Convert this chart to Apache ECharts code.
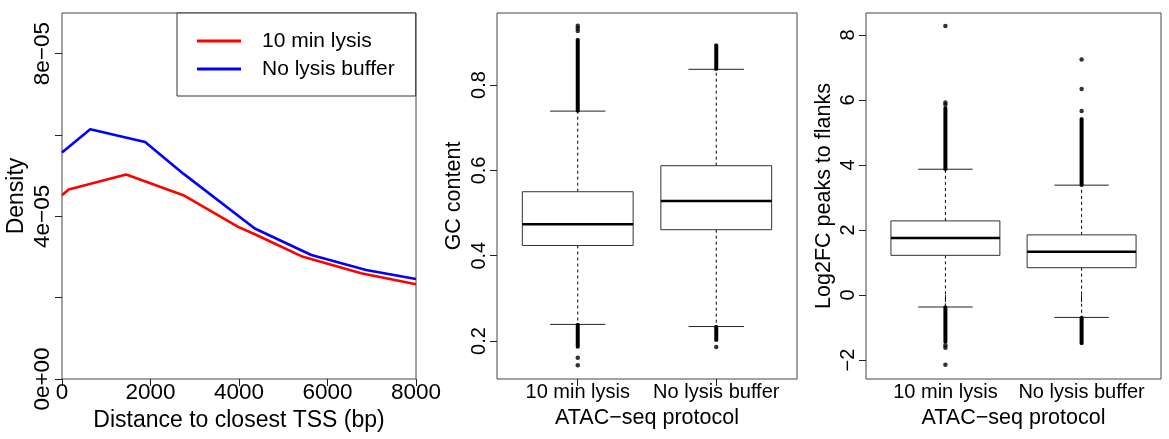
<!DOCTYPE html>
<html>
<head>
<meta charset="utf-8">
<script src="https://cdn.jsdelivr.net/npm/echarts@6/dist/echarts.min.js"></script>
<style>
  html, body { margin: 0; padding: 0; background: #fff; }
  #chart { width: 1169px; height: 439px; }
</style>
</head>
<body>
<div id="chart"></div>
<script>
// ---- Panel 1: density of peak distance to the closest TSS ----
const lysisSeriesNames = ['10 min lysis', 'No lysis buffer'];
const tssDistance10min = [0, 150, 1450, 2742, 3981, 4394, 5408, 6761, 8000];
const density10min = [4.52e-5, 4.66e-5, 5.03e-5, 4.52e-5, 3.74e-5, 3.54e-5, 3.02e-5, 2.60e-5, 2.33e-5];
const tssDistanceNoBuffer = [0, 638, 1878, 2742, 4357, 5634, 6873, 8000];
const densityNoBuffer = [5.57e-5, 6.14e-5, 5.83e-5, 5.05e-5, 3.70e-5, 3.05e-5, 2.68e-5, 2.46e-5];
const distanceTicks = [0, 2000, 4000, 6000, 8000];
const densityTickValues = [0, 2e-5, 4e-5, 6e-5, 8e-5];
const densityLabelValues = [0, 4e-5, 8e-5];
const densityLabelTexts = ['0e+00', '4e\u221205', '8e\u221205'];

// ---- Panels 2 and 3: box plots per ATAC-seq protocol ----
const protocolNames = ['10 min lysis', 'No lysis buffer'];
// [low whisker, Q1, median, Q3, high whisker]
const gcStats = [
  [0.239, 0.424, 0.474, 0.550, 0.739],
  [0.234, 0.461, 0.528, 0.611, 0.837]
];
// dense runs of outliers [protocol index, from, to]
const gcOutlierRuns = [
  [1, 0.739, 0.907], [1, 0.186, 0.239],
  [2, 0.837, 0.894], [2, 0.202, 0.234]
];
// single outliers [protocol index, value]
const gcOutliers = [
  [1, 0.927], [1, 0.933], [1, 0.939], [1, 0.161], [1, 0.143],
  [2, 0.186]
];
const gcTicks = [0.2, 0.4, 0.6, 0.8];

const log2Stats = [
  [-0.37, 1.22, 1.75, 2.28, 3.87],
  [-0.69, 0.84, 1.33, 1.85, 3.38]
];
const log2OutlierRuns = [
  [1, 3.87, 5.75], [1, -0.37, -1.45],
  [2, 3.38, 5.42], [2, -0.69, -1.49]
];
const log2Outliers = [
  [1, 5.85], [1, 5.92], [1, 8.28], [1, -1.55], [1, -1.62], [1, -2.15],
  [2, 5.66], [2, 6.34], [2, 7.25]
];
const log2Ticks = [-2, 0, 2, 4, 6, 8];

const FONT = "'Liberation Sans', Arial, Helvetica, sans-serif";
const FRAME = '#444';
const TICK = '#222';

function pairs(xs, ys) { return xs.map((x, i) => [x, ys[i]]); }
function minusSign(v) { return String(v).replace('-', '\u2212'); }

function boxData(stats) {
  return stats.map((s, i) => [i + 1].concat(s));
}

function renderBox(params, api) {
  const x = api.value(0);
  const pt = v => api.coord([x, v]);
  const xl = api.coord([x - 0.4, 0])[0], xr = api.coord([x + 0.4, 0])[0];
  const cl = api.coord([x - 0.2, 0])[0], cr = api.coord([x + 0.2, 0])[0];
  const xc = pt(0)[0];
  const lo = pt(api.value(1))[1], q1 = pt(api.value(2))[1], md = pt(api.value(3))[1];
  const q3 = pt(api.value(4))[1], hi = pt(api.value(5))[1];
  const dash = { stroke: '#000', lineWidth: 1, lineDash: [3, 3] };
  const solid = { stroke: '#222', lineWidth: 1 };
  return {
    type: 'group',
    children: [
      { type: 'line', shape: { x1: xc, y1: q3, x2: xc, y2: hi }, style: dash },
      { type: 'line', shape: { x1: xc, y1: q1, x2: xc, y2: lo }, style: dash },
      { type: 'line', shape: { x1: cl, y1: hi, x2: cr, y2: hi }, style: solid },
      { type: 'line', shape: { x1: cl, y1: lo, x2: cr, y2: lo }, style: solid },
      { type: 'rect', shape: { x: xl, y: q3, width: xr - xl, height: q1 - q3 },
        style: { fill: '#fff', stroke: '#333', lineWidth: 1 } },
      { type: 'line', shape: { x1: xl, y1: md, x2: xr, y2: md },
        style: { stroke: '#000', lineWidth: 2.5 } }
    ]
  };
}

function renderRun(params, api) {
  const a = api.coord([api.value(0), api.value(1)]);
  const b = api.coord([api.value(0), api.value(2)]);
  const top = Math.min(a[1], b[1]);
  return {
    type: 'rect',
    shape: { x: a[0] - 2, y: top - 1.5, width: 4, height: Math.abs(a[1] - b[1]) + 3, r: 1.5 },
    style: { fill: '#000' }
  };
}

function boxXAxis(gridIndex) {
  return {
    type: 'value', gridIndex, min: 0.417, max: 2.583,
    name: 'ATAC\u2212seq protocol', nameLocation: 'middle', nameGap: 22,
    nameTextStyle: { fontFamily: FONT, fontSize: 21.5, color: '#000' },
    axisLine: { show: false }, splitLine: { show: false },
    axisTick: { show: true, length: 7, customValues: [1, 2], lineStyle: { color: TICK } },
    axisLabel: { customValues: [1, 2], margin: 3, fontFamily: FONT, fontSize: 20, color: '#000',
      formatter: v => protocolNames[Math.round(v) - 1] }
  };
}

function boxYAxis(gridIndex, min, max, ticks, name, gap) {
  return {
    type: 'value', gridIndex, min, max,
    name, nameLocation: 'middle', nameGap: gap, nameRotate: 90,
    nameTextStyle: { fontFamily: FONT, fontSize: 21.5, color: '#000' },
    axisLine: { show: false }, splitLine: { show: false },
    axisTick: { show: true, length: 7, customValues: ticks, lineStyle: { color: TICK } },
    axisLabel: { customValues: ticks, rotate: 90, margin: 8, fontFamily: FONT, fontSize: 20, color: '#000',
      formatter: v => minusSign(v) }
  };
}

const chart = echarts.init(document.getElementById('chart'), null, { renderer: 'canvas' });

chart.setOption({
  animation: false,
  backgroundColor: '#fff',
  textStyle: { fontFamily: FONT },
  grid: [
    { left: 62, top: 13, width: 354, height: 366, show: true, borderColor: FRAME, borderWidth: 1, backgroundColor: 'transparent' },
    { left: 497, top: 13, width: 300, height: 366, show: true, borderColor: FRAME, borderWidth: 1, backgroundColor: 'transparent' },
    { left: 866, top: 13, width: 295, height: 366, show: true, borderColor: FRAME, borderWidth: 1, backgroundColor: 'transparent' }
  ],
  legend: {
    data: lysisSeriesNames.map(n => ({ name: n, icon: 'rect' })),
    orient: 'vertical',
    left: 177, top: 13,
    padding: [16, 21, 15, 20],
    itemGap: 4, itemWidth: 44, itemHeight: 3,
    borderColor: '#333', borderWidth: 1, borderRadius: 0,
    backgroundColor: '#fff',
    selectedMode: false,
    textStyle: { fontFamily: FONT, fontSize: 21, lineHeight: 24, color: '#000', padding: [0, 0, 0, 16] }
  },
  xAxis: [
    {
      type: 'value', gridIndex: 0, min: 0, max: 8000,
      name: 'Distance to closest TSS (bp)', nameLocation: 'middle', nameGap: 23,
      nameTextStyle: { fontFamily: FONT, fontSize: 23, color: '#000' },
      axisLine: { show: false }, splitLine: { show: false },
      axisTick: { show: true, length: 7, customValues: distanceTicks, lineStyle: { color: TICK } },
      axisLabel: { customValues: distanceTicks, margin: 2, fontFamily: FONT, fontSize: 22.5, color: '#000',
        formatter: v => String(Math.round(v)) }
    },
    boxXAxis(1),
    boxXAxis(2)
  ],
  yAxis: [
    {
      type: 'value', gridIndex: 0, min: 0, max: 9e-5,
      name: 'Density', nameLocation: 'middle', nameGap: 34, nameRotate: 90,
      nameTextStyle: { fontFamily: FONT, fontSize: 23, color: '#000' },
      axisLine: { show: false }, splitLine: { show: false },
      axisTick: { show: true, length: 7, customValues: densityTickValues, lineStyle: { color: TICK } },
      axisLabel: { customValues: densityLabelValues, rotate: 90, margin: 8, fontFamily: FONT, fontSize: 22.5, color: '#000',
        formatter: v => {
          let best = 0;
          densityLabelValues.forEach((d, i) => { if (Math.abs(d - v) < Math.abs(densityLabelValues[best] - v)) best = i; });
          return densityLabelTexts[best];
        } }
    },
    boxYAxis(1, 0.111, 0.969, gcTicks, 'GC content', 32),
    boxYAxis(2, -2.585, 8.677, log2Ticks, 'Log2FC peaks to flanks', 31)
  ],
  series: [
    {
      name: lysisSeriesNames[0], type: 'line', xAxisIndex: 0, yAxisIndex: 0,
      data: pairs(tssDistance10min, density10min),
      showSymbol: false, symbol: 'none', color: '#ff0000',
      lineStyle: { color: '#ff0000', width: 2.6 }
    },
    {
      name: lysisSeriesNames[1], type: 'line', xAxisIndex: 0, yAxisIndex: 0,
      data: pairs(tssDistanceNoBuffer, densityNoBuffer),
      showSymbol: false, symbol: 'none', color: '#0000ff',
      lineStyle: { color: '#0000ff', width: 2.6 }
    },
    {
      type: 'custom', xAxisIndex: 1, yAxisIndex: 1, renderItem: renderBox,
      data: boxData(gcStats), encode: { x: 0, y: [1, 2, 3, 4, 5] }, z: 2
    },
    {
      type: 'custom', xAxisIndex: 1, yAxisIndex: 1, renderItem: renderRun,
      data: gcOutlierRuns, encode: { x: 0, y: [1, 2] }, z: 3
    },
    {
      type: 'scatter', xAxisIndex: 1, yAxisIndex: 1, data: gcOutliers,
      symbol: 'circle', symbolSize: 4.5, itemStyle: { color: '#000' }, z: 3
    },
    {
      type: 'custom', xAxisIndex: 2, yAxisIndex: 2, renderItem: renderBox,
      data: boxData(log2Stats), encode: { x: 0, y: [1, 2, 3, 4, 5] }, z: 2
    },
    {
      type: 'custom', xAxisIndex: 2, yAxisIndex: 2, renderItem: renderRun,
      data: log2OutlierRuns, encode: { x: 0, y: [1, 2] }, z: 3
    },
    {
      type: 'scatter', xAxisIndex: 2, yAxisIndex: 2, data: log2Outliers,
      symbol: 'circle', symbolSize: 4.5, itemStyle: { color: '#000' }, z: 3
    }
  ]
});
</script>
</body>
</html>
